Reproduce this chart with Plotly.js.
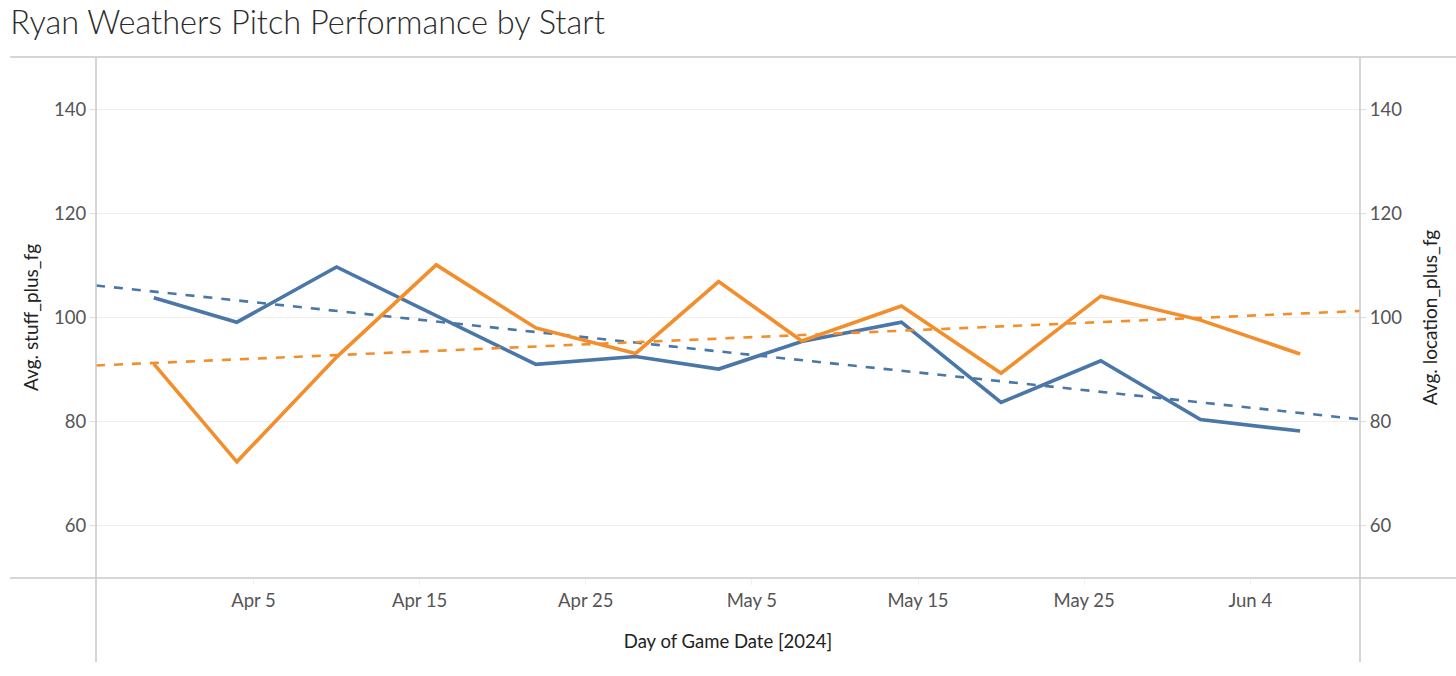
<!DOCTYPE html>
<html>
<head>
<meta charset="utf-8">
<script src="https://cdn.plot.ly/plotly-3.0.1.min.js"></script>
<style>
html,body{margin:0;padding:0;background:#fff;}
#chart{width:1456px;height:676px;}
</style>
</head>
<body>
<div id="chart"></div>
<script>
// Data
const gameDates = ['2024-03-30','2024-04-04','2024-04-10','2024-04-16','2024-04-22','2024-04-28','2024-05-03','2024-05-08','2024-05-14','2024-05-20','2024-05-26','2024-06-01','2024-06-07'];
const stuffPlus = [103.8, 99.1, 109.7, 100.4, 91.0, 92.5, 90.1, 95.4, 99.1, 83.7, 91.7, 80.4, 78.2];
const locationPlus = [91.1, 72.3, 92.4, 110.1, 98.0, 93.1, 106.9, 95.5, 102.2, 89.3, 104.1, 99.5, 93.0];
const xTickVals = ['2024-04-05','2024-04-15','2024-04-25','2024-05-05','2024-05-15','2024-05-25','2024-06-04'];
const xTickText = ['Apr 5','Apr 15','Apr 25','May 5','May 15','May 25','Jun 4'];
const yTickVals = [60, 80, 100, 120, 140];

const xStart = '2024-03-26 12:30';
const xEnd = '2024-06-10 14:30';

function toMs(d){ return new Date(d.replace(' ','T') + (d.length>10?':00Z':'T00:00:00Z')).getTime(); }
function fitLine(xs, ys){
  const n = xs.length;
  const mx = xs.reduce((a,b)=>a+b,0)/n, my = ys.reduce((a,b)=>a+b,0)/n;
  let sxy=0, sxx=0;
  for(let i=0;i<n;i++){ sxy+=(xs[i]-mx)*(ys[i]-my); sxx+=(xs[i]-mx)**2; }
  const b = sxy/sxx;
  return x => my + b*(x-mx);
}
const xsMs = gameDates.map(toMs);
const endsMs = [toMs(xStart), toMs(xEnd)];
const endsIso = endsMs.map(t => new Date(t).toISOString().replace('T',' ').slice(0,19));
const fStuff = fitLine(xsMs, stuffPlus);
const fLoc = fitLine(xsMs, locationPlus);

const BLUE = '#4a76a8';
const ORANGE = '#f28e2b';

const traces = [
  {x: endsIso, y: endsMs.map(fStuff), mode:'lines', line:{color:BLUE, width:2.6, dash:'dash'}, yaxis:'y', hoverinfo:'skip'},
  {x: endsIso, y: endsMs.map(fLoc), mode:'lines', line:{color:ORANGE, width:2.6, dash:'dash'}, yaxis:'y2', hoverinfo:'skip'},
  {x: gameDates, y: stuffPlus, mode:'lines', line:{color:BLUE, width:3.6}, yaxis:'y', name:'stuff_plus_fg'},
  {x: gameDates, y: locationPlus, mode:'lines', line:{color:ORANGE, width:3.6}, yaxis:'y2', name:'location_plus_fg'}
];

const FRAME = '#c9c9c9';
const FONT = 'Lato, "Open Sans", sans-serif';
const layout = {
  width:1456, height:676,
  margin:{l:96, r:96, t:57, b:98},
  paper_bgcolor:'#fff', plot_bgcolor:'#fff',
  showlegend:false,
  font:{family:FONT, color:'#555'},
  title:{text:'Ryan Weathers Pitch Performance by Start', x:0.007, xanchor:'left', y:0.967, yanchor:'middle',
         font:{family:FONT, size:32.5, color:'#2b2b2b', weight:300}},
  xaxis:{type:'date', range:[xStart, xEnd], tickvals:xTickVals, ticktext:xTickText,
         showgrid:false, zeroline:false, showline:false, ticks:'outside', ticklen:6, tickcolor:'#f0f0f0',
         tickfont:{size:18.5, color:'#555'},
         title:{text:'Day of Game Date [2024]', standoff:24, font:{size:18.5, color:'#222'}}},
  yaxis:{range:[50,150], tickvals:yTickVals, showgrid:true, gridcolor:'#efefef', gridwidth:1, zeroline:false,
         showline:false, ticks:'outside', ticklen:5, tickcolor:'#ddd', tickfont:{size:18.5, color:'#555'},
         title:{text:'Avg. stuff_plus_fg', standoff:10, font:{size:19, color:'#222'}}},
  yaxis2:{range:[50,150], tickvals:yTickVals, overlaying:'y', side:'right', showgrid:false, zeroline:false,
          showline:false, ticks:'outside', ticklen:5, tickcolor:'#ddd', tickfont:{size:18.5, color:'#555'},
          title:{text:'Avg. location_plus_fg', standoff:22, font:{size:19, color:'#222'}}},
  shapes:[
    {type:'line', xref:'paper', yref:'paper', x0:-0.068, x1:1.08, y0:1, y1:1, line:{color:FRAME, width:1.5}},
    {type:'line', xref:'paper', yref:'paper', x0:-0.068, x1:1.08, y0:0, y1:0, line:{color:FRAME, width:1.5}},
    {type:'line', xref:'paper', yref:'paper', x0:0, x1:0, y0:1, y1:-0.161, line:{color:FRAME, width:1.5}},
    {type:'line', xref:'paper', yref:'paper', x0:1, x1:1, y0:1, y1:-0.161, line:{color:FRAME, width:1.5}}
  ]
};

Plotly.newPlot('chart', traces, layout, {displayModeBar:false, staticPlot:true});
</script>
</body>
</html>
